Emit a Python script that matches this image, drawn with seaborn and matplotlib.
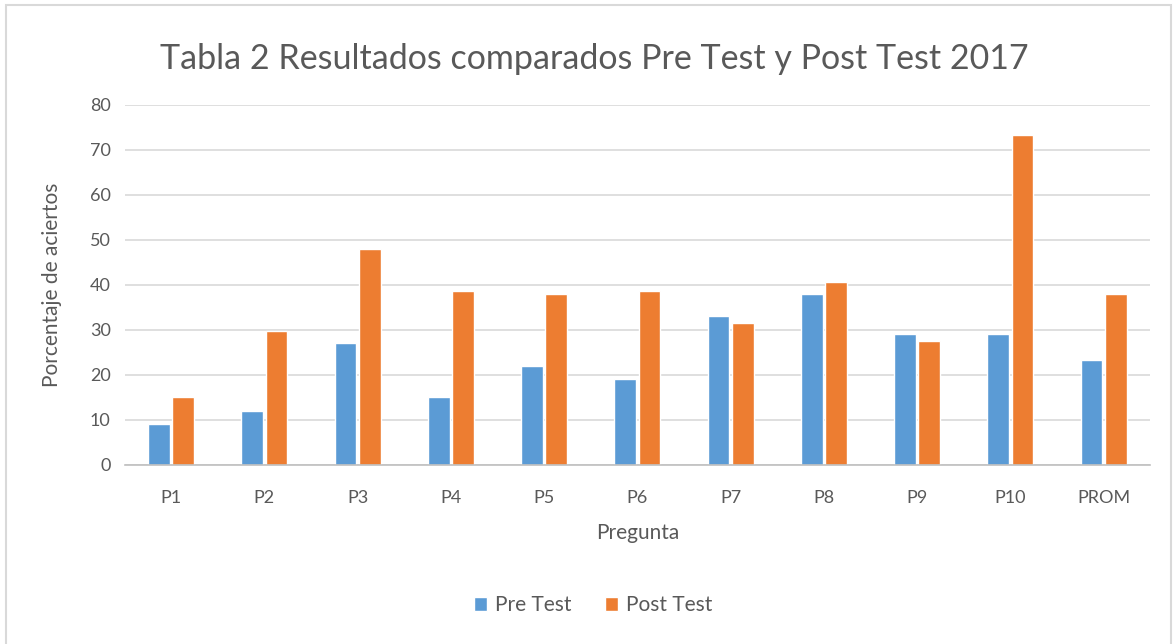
import pandas as pd
import seaborn as sns
import matplotlib.pyplot as plt
from matplotlib.patches import Rectangle

preguntas = ["P1", "P2", "P3", "P4", "P5", "P6", "P7", "P8", "P9", "P10", "PROM"]
pre_test = [9, 12, 27, 15, 22, 19, 33, 38, 29, 29, 23.3]
post_test = [15.2, 29.7, 47.9, 38.7, 37.9, 38.7, 31.6, 40.7, 27.6, 73.3, 38.1]
series = ["Pre Test", "Post Test"]
colores = ["#5B9BD5", "#ED7D31"]

df = pd.DataFrame({
    "Pregunta": preguntas * 2,
    "valor": pre_test + post_test,
    "serie": [series[0]] * len(preguntas) + [series[1]] * len(preguntas),
})

sns.set_style("white")
plt.rcParams["font.family"] = ["Lato", "DejaVu Sans"]
texto = "#595959"

fig = plt.figure(figsize=(11.75, 6.44), dpi=100)
ax = fig.add_axes([0.106, 0.278, 0.873, 0.559])

sns.barplot(data=df, x="Pregunta", y="valor", hue="serie", order=preguntas,
            hue_order=series, palette=colores, width=0.52, gap=0.1,
            saturation=1, ax=ax, legend=True)

ax.set_ylim(0, 80)
ax.set_yticks(range(0, 81, 10))
ax.set_xlim(-0.5, len(preguntas) - 0.5)
ax.yaxis.grid(True, color="#D9D9D9", linewidth=1.2)
ax.set_axisbelow(True)
for s in ["left", "right", "top"]:
    ax.spines[s].set_visible(False)
ax.spines["bottom"].set_color("#BFBFBF")
ax.spines["bottom"].set_linewidth(1.2)
ax.tick_params(axis="both", length=0, labelsize=13, colors=texto, pad=10)
ax.tick_params(axis="x", pad=18)

ax.set_xlabel("Pregunta", fontsize=15, color=texto, labelpad=12)
ax.set_ylabel("Porcentaje de aciertos", fontsize=15, color=texto, labelpad=20)
fig.text(0.506, 0.908, "Tabla 2 Resultados comparados Pre Test y Post Test 2017",
         ha="center", va="center", fontsize=24.5, color=texto)

ax.legend(loc="center", bbox_to_anchor=(0.457, -0.39), ncol=2, frameon=False,
          fontsize=15, labelcolor=texto, handlelength=0.6, handleheight=0.6,
          columnspacing=1.6, handletextpad=0.4)

fig.patches.append(Rectangle((0.005, -0.05), 0.992, 1.042, transform=fig.transFigure,
                             fill=False, edgecolor="#D9D9D9", linewidth=1.5))

fig.savefig("out.png", dpi=100)
